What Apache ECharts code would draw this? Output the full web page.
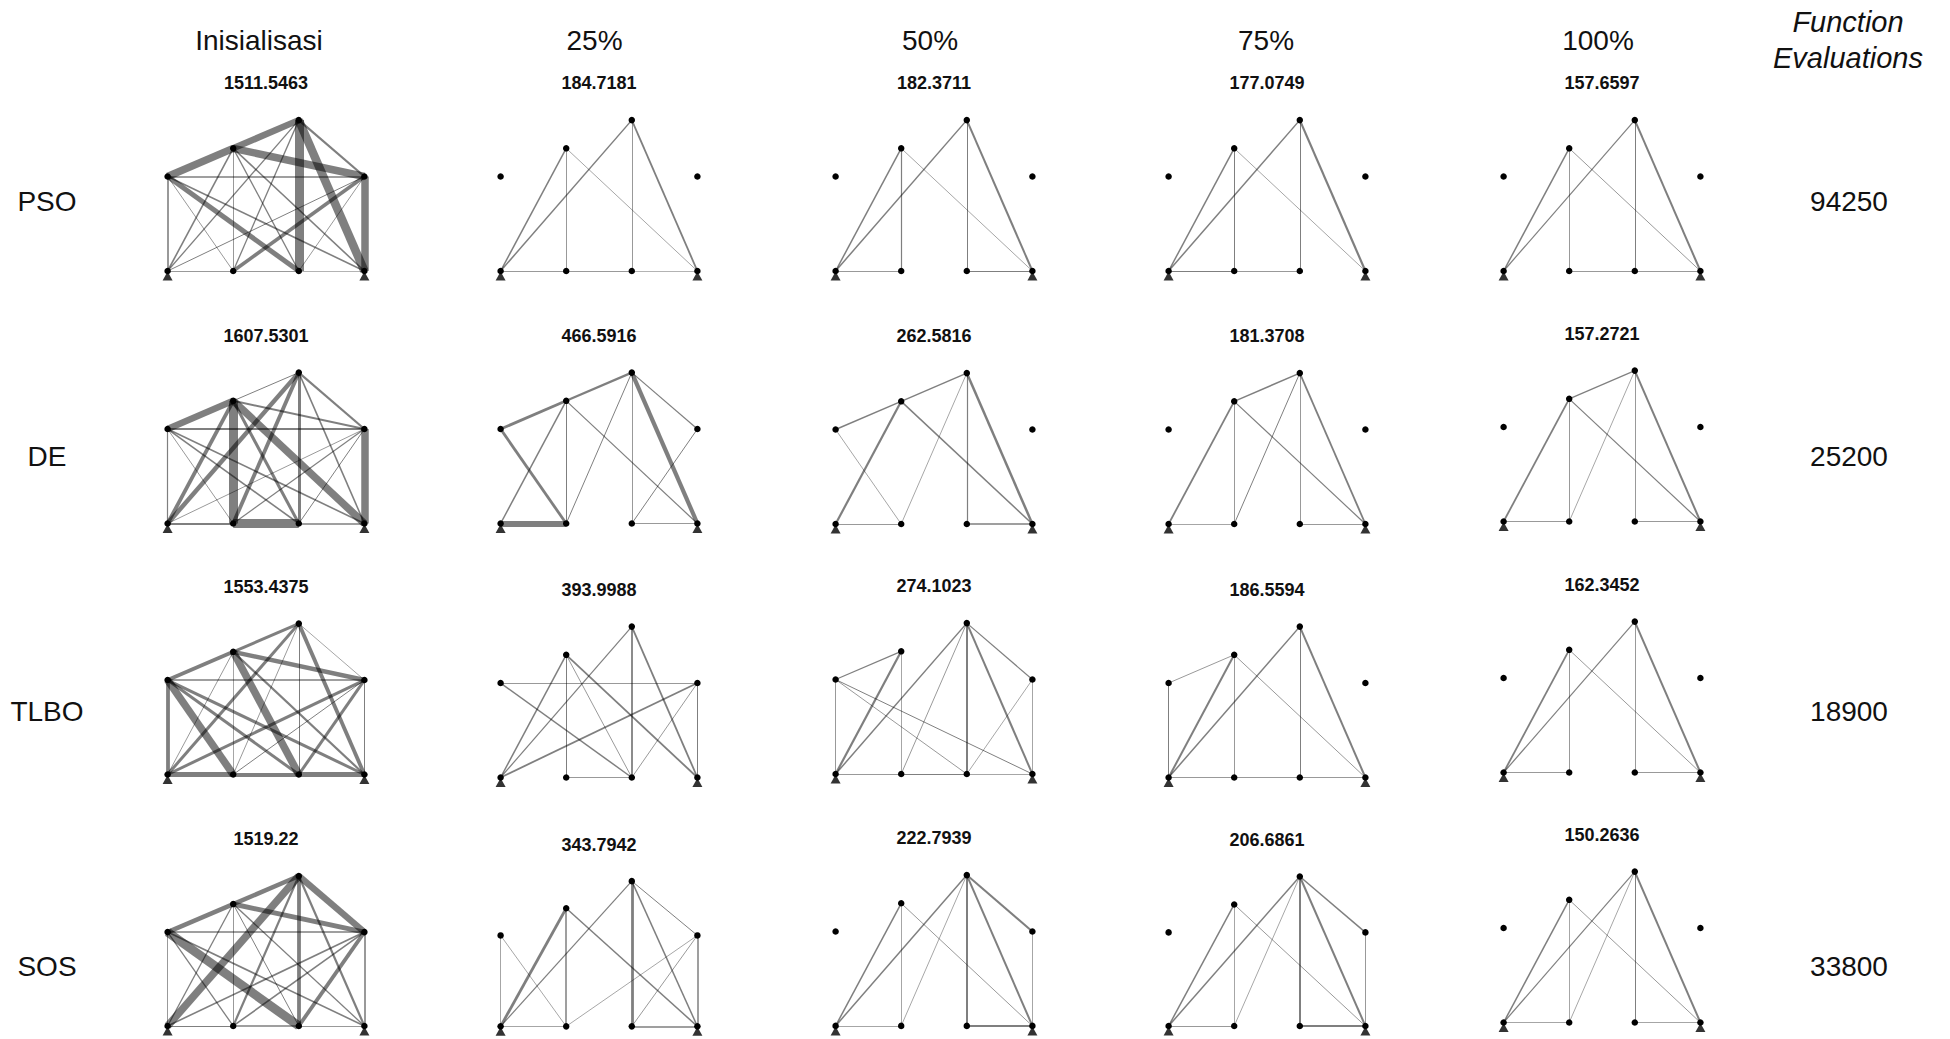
<!DOCTYPE html>
<html>
<head>
<meta charset="utf-8">
<script src="https://cdn.jsdelivr.net/npm/echarts@6/dist/echarts.min.js"></script>
<style>
  html, body { margin: 0; padding: 0; background: #fff; }
  #chart { width: 1950px; height: 1039px; }
</style>
</head>
<body>
<div id="chart"></div>
<script>
// ---- data -------------------------------------------------------------
const methods = ['PSO', 'DE', 'TLBO', 'SOS'];
const stages = ['Inisialisasi', '25%', '50%', '75%', '100%'];
const functionEvaluations = [94250, 25200, 18900, 33800];

// best structural weight of each snapshot (row = method, column = stage)
const weightPSO  = [1511.5463, 184.7181, 182.3711, 177.0749, 157.6597];
const weightDE   = [1607.5301, 466.5916, 262.5816, 181.3708, 157.2721];
const weightTLBO = [1553.4375, 393.9988, 274.1023, 186.5594, 162.3452];
const weightSOS  = [1519.22, 343.7942, 222.7939, 206.6861, 150.2636];

// ground-structure nodes: 0-3 bottom chord, 4 left, 5 upper, 6 top, 7 right
const nodeX = [0, 1, 2, 3, 0, 1, 2, 3];
const nodeY = [0, 0, 0, 0, 1.44, 1.87, 2.30, 1.44];
const supportNodes = [0, 3];

// candidate members (node pairs)
const memberPairs = [
  [0, 1], [1, 2], [2, 3],
  [0, 4], [0, 5], [0, 6], [0, 7],
  [1, 4], [1, 5], [1, 6], [1, 7],
  [2, 4], [2, 5], [2, 6], [2, 7],
  [3, 4], [3, 5], [3, 6], [3, 7],
  [4, 5], [4, 7], [5, 6], [5, 7], [6, 7]
];

// member cross-section areas per snapshot (0 = member removed)
const areasPSO = [
  [0.8,0.8,0.6, 1.6,1.6,1.3,1.0, 0.8,0.8,1.3,3.6, 5.0,1.3,9.0,0.8, 1.6,1.6,8.5,7.5, 7.5,1.6,6.5,7.5,2.2],
  [0.8,0.8,0.6, 0,1.5,1.5,0, 0,0.8,0,0, 0,0,0.8,0, 0,0.7,1.8,0, 0,0,0,0,0],
  [0.8,0,1.0, 0,1.5,1.5,0, 0,1.2,0,0, 0,0,1.0,0, 0,0.7,2.0,0, 0,0,0,0,0],
  [1.0,0.8,0, 0,1.5,1.5,0, 0,1.0,0,0, 0,0,1.0,0, 0,0.7,2.2,0, 0,0,0,0,0],
  [0,0.8,0.8, 0,1.5,1.2,0, 0,0.8,0,0, 0,0,1.0,0, 0,0.8,2.0,0, 0,0,0,0,0]
];
const areasDE = [
  [2.2,9.0,1.6, 1.2,3.8,4.5,0.8, 0.8,9.0,3.8,1.2, 1.6,3.0,3.0,1.0, 1.6,7.5,1.6,7.5, 6.5,2.2,1.0,2.0,2.2],
  [6.0,0,0.8, 0,1.5,0,0, 2.8,1.0,1.0,0, 0,0,0.8,1.0, 0,1.2,4.2,0, 2.8,0,2.2,0,1.2],
  [0.8,0,1.5, 0,2.2,0,0, 0.7,0,0.7,0, 0,0,1.2,0, 0,1.5,2.5,0, 1.5,0,1.5,0,0],
  [0.7,0,0.8, 0,1.8,0,0, 0,0.8,1.0,0, 0,0,0.8,0, 0,1.2,1.8,0, 0,0,1.5,0,0],
  [0.8,0,0.8, 0,1.8,0,0, 0,0.8,0.7,0, 0,0,0.8,0, 0,1.2,2.0,0, 0,0,1.2,0,0]
];
const areasTLBO = [
  [5.0,3.8,5.0, 3.8,0.8,3.0,3.0, 7.5,0.7,0.8,1.0, 3.0,7.5,1.0,3.0, 3.0,2.2,3.8,1.0, 3.8,1.6,3.0,4.5,0.7],
  [0,0.8,0, 0,1.5,1.2,1.8, 0,1.0,0,0, 1.5,0.8,1.8,0.8, 0,1.8,1.8,1.0, 0,0.8,0,0,0],
  [0.8,1.0,0.7, 0.8,2.2,1.5,0, 0,0.7,0.8,0, 0.8,0,2.0,0.7, 1.0,0,2.0,0.7, 1.2,0,0,0,1.2],
  [0.8,0.8,0.8, 1.0,2.0,1.5,0, 0,0.8,0,0, 0,0,1.0,0, 0,0.8,2.0,0, 0.8,0,0,0,0],
  [0.8,0,0.8, 0,1.8,1.2,0, 0,0.8,0,0, 0,0,0.8,0, 0,0.8,2.0,0, 0,0,0,0,0]
];
const areasSOS = [
  [1.0,1.6,0.8, 0.8,1.3,7.5,1.6, 1.3,0.8,2.2,1.6, 9.0,1.0,3.8,3.8, 1.6,1.3,2.2,1.6, 4.5,1.6,4.5,5.0,6.5],
  [0.7,0,1.5, 0.7,2.8,1.2,0, 0.7,1.5,0,0.7, 0,0,2.8,0.8, 0,1.5,1.5,1.5, 0,0,0,0,1.0],
  [0.7,0,2.0, 0,1.5,1.5,0, 0,0.7,0.7,0, 0,0,2.0,0, 0,0.8,2.0,0.7, 0,0,0,0,2.0],
  [0.8,0,1.8, 0,1.5,1.5,0, 0,0.7,0.7,0, 0,0,2.0,0, 0,0.8,2.0,0.8, 0,0,0,0,1.5],
  [0.7,0,0.7, 0,1.5,1.2,0, 0,0.7,0.7,0, 0,0,1.0,0, 0,0.8,2.0,0, 0,0,0,0,0]
];

// ---- layout -----------------------------------------------------------
const weights = [weightPSO, weightDE, weightTLBO, weightSOS];
const areas = [areasPSO, areasDE, areasTLBO, areasSOS];

const UNIT = 65.6;                         // pixels per structural unit
const colX = [266, 599, 934, 1267, 1602];  // panel centres
const rowBase = [271, 523.5, 774.5, 1027]; // bottom-chord baselines
const baseNudge = [
  [0, 0, 0, 0, 0],
  [0, 0, 0.5, 0.5, -2],
  [0, 3, -0.5, 3, -2],
  [0, 5.5, -1, 0.5, -4.5]
];
const X_MIN = -0.2, X_MAX = 3.2, Y_MIN = -0.2, Y_MAX = 2.5;
const FONT = '"Liberation Sans", Arial, Helvetica, sans-serif';

const grids = [], xAxes = [], yAxes = [], series = [], graphics = [];

function centredText(text, x, y, font) {
  return {
    type: 'text', x: x, y: y, silent: true,
    style: {
      text: text, fill: '#111', font: font,
      textAlign: 'center', textVerticalAlign: 'middle',
      align: 'center', verticalAlign: 'middle'
    }
  };
}

methods.forEach((method, r) => {
  stages.forEach((stage, c) => {
    const k = grids.length;
    const base = rowBase[r] + baseNudge[r][c];
    const cx = colX[c];
    grids.push({
      left: cx - (1.5 - X_MIN) * UNIT,
      top: base - Y_MAX * UNIT,
      width: (X_MAX - X_MIN) * UNIT,
      height: (Y_MAX - Y_MIN) * UNIT,
      containLabel: false
    });
    xAxes.push({ gridIndex: k, type: 'value', min: X_MIN, max: X_MAX, show: false });
    yAxes.push({ gridIndex: k, type: 'value', min: Y_MIN, max: Y_MAX, show: false });

    const a = areas[r][c];
    // truss members and joints
    series.push({
      type: 'graph',
      coordinateSystem: 'cartesian2d',
      xAxisIndex: k,
      yAxisIndex: k,
      symbol: 'circle',
      symbolSize: 6.5,
      itemStyle: { color: '#000' },
      lineStyle: { color: '#000', opacity: 0.5, curveness: 0, cap: 'butt' },
      label: { show: false },
      emphasis: { disabled: true },
      silent: true,
      animation: false,
      z: 3,
      data: nodeX.map((x, i) => ({ name: 'n' + i, value: [x, nodeY[i]] })),
      links: memberPairs
        .map((p, m) => ({ source: p[0], target: p[1], area: a[m] }))
        .filter(l => l.area > 0)
        .map(l => ({ source: l.source, target: l.target, lineStyle: { width: l.area } }))
    });
    // pinned supports
    series.push({
      type: 'scatter',
      xAxisIndex: k,
      yAxisIndex: k,
      symbol: 'triangle',
      symbolSize: [10, 9],
      symbolOffset: [0, 5],
      itemStyle: { color: '#000' },
      clip: false,
      silent: true,
      animation: false,
      z: 2,
      data: supportNodes.map(i => [nodeX[i], nodeY[i]])
    });

    graphics.push(centredText(String(weights[r][c]), cx, base - 188, 'bold 18px ' + FONT));
  });
});

// column headers
const headerX = [259, 594.5, 930, 1266, 1598];
stages.forEach((s, c) => graphics.push(centredText(s, headerX[c], 40, '28px ' + FONT)));

// row labels and function-evaluation counts
const rowLabelY = [201, 456, 711, 966];
methods.forEach((m, r) => {
  graphics.push(centredText(m, 47, rowLabelY[r], '28px ' + FONT));
  graphics.push(centredText(String(functionEvaluations[r]), 1849, rowLabelY[r], '28px ' + FONT));
});
['Function', 'Evaluations'].forEach((t, i) => {
  graphics.push(centredText(t, 1848, 22 + i * 36, 'italic 29px ' + FONT));
});

const chart = echarts.init(document.getElementById('chart'), null, { renderer: 'svg' });
chart.setOption({
  backgroundColor: '#fff',
  animation: false,
  grid: grids,
  xAxis: xAxes,
  yAxis: yAxes,
  series: series,
  graphic: graphics
});
</script>
</body>
</html>
